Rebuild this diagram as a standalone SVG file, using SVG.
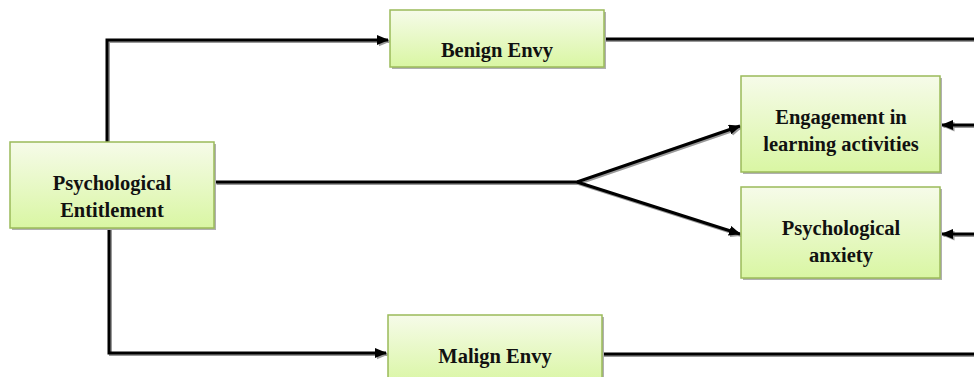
<svg xmlns="http://www.w3.org/2000/svg" width="974" height="377" viewBox="0 0 974 377">
<style>
.box{fill:url(#g);stroke:#9bbb59;stroke-width:1.5}
.sh{fill:#b0b0b0}
.t{font-family:"Liberation Serif",serif;font-weight:bold;font-size:20.5px;fill:#111;text-anchor:middle}
.c{fill:none;stroke:#000;stroke-width:3}
.cs{fill:none;stroke:#999;stroke-width:3}
</style>
<defs>
<linearGradient id="g" x1="0" y1="0" x2="0" y2="1">
<stop offset="0" stop-color="#f6fbe9"/>
<stop offset="1" stop-color="#d9f6a3"/>
</linearGradient>
<marker id="a" markerWidth="12" markerHeight="10" refX="11" refY="5" orient="auto" markerUnits="userSpaceOnUse">
<path d="M0,0 L12,5 L0,10 Z" fill="#000"/>
</marker>
<marker id="as" markerWidth="12" markerHeight="10" refX="11" refY="5" orient="auto" markerUnits="userSpaceOnUse">
<path d="M0,0 L12,5 L0,10 Z" fill="#999"/>
</marker>
</defs>
<g id="connectors">
<g transform="translate(1.5,1.5)">
<path class="cs" d="M107,142 V40 H388" marker-end="url(#as)"/>
<path class="cs" d="M215,182 H577 L740,126" marker-end="url(#as)"/>
<path class="cs" d="M577,182 L740,234" marker-end="url(#as)"/>
<path class="cs" d="M109,228 V353 H386" marker-end="url(#as)"/>
<path class="cs" d="M604,39 H974"/>
<path class="cs" d="M602,354 H974"/>
<path class="cs" d="M974,125 H942" marker-end="url(#as)"/>
<path class="cs" d="M974,234 H942" marker-end="url(#as)"/>
</g>
<path class="c" d="M107,142 V40 H388" marker-end="url(#a)"/>
<path class="c" d="M215,182 H577 L740,126" marker-end="url(#a)"/>
<path class="c" d="M577,182 L740,234" marker-end="url(#a)"/>
<path class="c" d="M109,228 V353 H386" marker-end="url(#a)"/>
<path class="c" d="M604,39 H974"/>
<path class="c" d="M602,354 H974"/>
<path class="c" d="M974,125 H942" marker-end="url(#a)"/>
<path class="c" d="M974,234 H942" marker-end="url(#a)"/>
</g>
<g id="benign">
<rect class="sh" x="392" y="12" width="214" height="57"/>
<rect class="box" x="390" y="10" width="214" height="57"/>
<text class="t" x="497" y="57">Benign Envy</text>
</g>
<g id="entitlement">
<rect class="sh" x="12" y="144" width="204" height="86"/>
<rect class="box" x="10" y="142" width="204" height="86"/>
<text class="t" x="112" y="190">Psychological</text>
<text class="t" x="112" y="217">Entitlement</text>
</g>
<g id="engagement">
<rect class="sh" x="743" y="78" width="199" height="96"/>
<rect class="box" x="741" y="76" width="199" height="96"/>
<text class="t" x="841" y="124">Engagement in</text>
<text class="t" x="841" y="151">learning activities</text>
</g>
<g id="anxiety">
<rect class="sh" x="743" y="189" width="199" height="91"/>
<rect class="box" x="741" y="187" width="199" height="91"/>
<text class="t" x="841" y="235">Psychological</text>
<text class="t" x="841" y="262">anxiety</text>
</g>
<g id="malign">
<rect class="sh" x="390" y="317" width="214" height="70"/>
<rect class="box" x="388" y="315" width="214" height="70"/>
<text class="t" x="495" y="363">Malign Envy</text>
</g>
</svg>
